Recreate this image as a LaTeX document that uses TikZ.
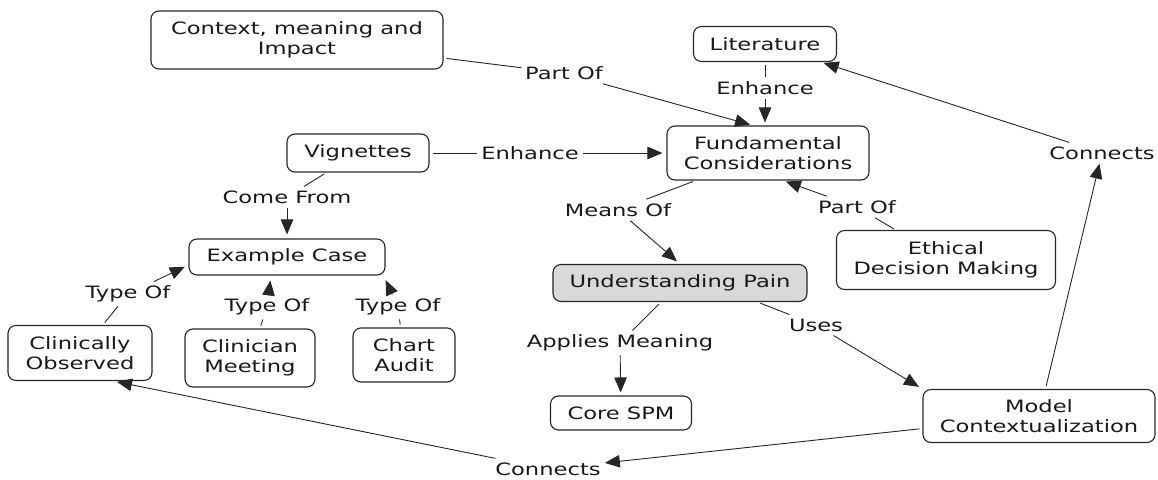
\documentclass[tikz,border=0pt]{standalone}
\usepackage{fontspec}
\setmainfont[FakeStretch=1.33]{DejaVu Sans}
\usetikzlibrary{arrows.meta}
\begin{document}
\begin{tikzpicture}[x=1pt,y=-1pt,
  every node/.style={font=\fontsize{17}{20.5}\selectfont, text=black!90},
  concept/.style={draw=black!85, line width=1.1pt, rounded corners=8pt, align=center, inner sep=0pt},
  lab/.style={inner sep=4pt},
  link/.style={draw=black!85, line width=0.9pt},
  arr/.style={link, -{Triangle[length=15pt,width=12.5pt]}}
]
\useasboundingbox (0,0) rectangle (1158,479);

% concepts
\node[concept, minimum width=292pt, minimum height=58pt] (cmi) at (297,40) {Context, meaning and\\Impact};
\node[concept, minimum width=143pt, minimum height=35pt] (lit) at (765,44) {Literature};
\node[concept, minimum width=142pt, minimum height=38pt] (vig) at (358,153) {Vignettes};
\node[concept, minimum width=202pt, minimum height=54pt] (fc) at (768,153) {Fundamental\\Considerations};
\node[concept, minimum width=196pt, minimum height=36pt] (ec) at (287,257) {Example Case};
\node[concept, minimum width=219pt, minimum height=59pt] (edm) at (946,260) {Ethical\\Decision Making};
\node[concept, fill=black!15, minimum width=254pt, minimum height=37pt] (up) at (680,283) {Understanding Pain};
\node[concept, minimum width=144pt, minimum height=55pt] (co) at (80,353) {Clinically\\Observed};
\node[concept, minimum width=130pt, minimum height=58pt] (cm) at (250,358) {Clinician\\Meeting};
\node[concept, minimum width=102pt, minimum height=54pt] (ca) at (404,355) {Chart\\Audit};
\node[concept, minimum width=141pt, minimum height=34pt] (spm) at (621,413) {Core SPM};
\node[concept, minimum width=232pt, minimum height=53pt] (mc) at (1039,416) {Model\\Contextualization};

% linking phrases
\node[lab] (po1) at (564,73) {Part Of};
\node[lab] (en1) at (530,153) {Enhance};
\node[lab] (en2) at (765,88) {Enhance};
\node[lab] (cf) at (287,197) {Come From};
\node[lab] (mo) at (618,210) {Means Of};
\node[lab] (po2) at (857,207) {Part Of};
\node[lab] (cr) at (1102,153) {Connects};
\node[lab] (to1) at (128,294) {Type Of};
\node[lab] (to2) at (267,307) {Type Of};
\node[lab] (to3) at (398,307) {Type Of};
\node[lab] (uses) at (816,325) {Uses};
\node[lab] (am) at (620,343) {Applies Meaning};
\node[lab] (cb) at (548,469) {Connects};

% connectors
\draw[link, shorten <=3pt] (cmi) -- (po1);
\draw[arr, shorten >=3pt] (po1) -- ([xshift=-15pt]fc.north);
\draw[link, shorten <=3pt] (lit) -- (en2);
\draw[arr, shorten >=3pt] (en2) -- (fc.north -| en2);
\draw[link, shorten <=3pt] (vig) -- (en1);
\draw[arr, shorten >=4pt] (en1) -- (fc);
\draw[link, shorten <=3pt] (vig) -- (cf);
\draw[arr, shorten >=4pt] (cf) -- (ec);
\draw[link, shorten <=3pt] (fc) -- (mo);
\draw[arr, shorten >=4pt] (mo) -- (up.north);
\draw[link, shorten <=2pt] (edm) -- (po2);
\draw[arr, shorten >=3pt] (po2) -- ([xshift=15pt]fc.south);
\draw[arr, shorten <=3pt] (mc) -- (cr);
\draw[arr, shorten >=3pt] (cr) -- (lit);
\draw[link, shorten <=3pt] (co) -- (to1);
\draw[arr, shorten >=4pt] (to1) -- ([yshift=-8pt]ec.west);
\draw[link, shorten <=3pt] (cm) -- (to2);
\draw[arr, shorten >=5pt] (to2) -- ([xshift=-16pt]ec.south);
\draw[link, shorten <=3pt] (ca) -- (to3);
\draw[arr, shorten >=5pt] (to3) -- ([xshift=-2pt]ec.south east);
\draw[link, shorten <=3pt] ([xshift=-50pt]up.south east) -- (uses);
\draw[arr, shorten >=4pt] (uses) -- (mc.north west);
\draw[link, shorten <=3pt] (up) -- (am);
\draw[arr, shorten >=3pt] (am) -- (spm);
\draw[arr, shorten <=3pt] (mc) -- (cb);
\draw[arr, shorten >=4pt] (cb) -- ([xshift=33pt]co.south);
\end{tikzpicture}
\end{document}
